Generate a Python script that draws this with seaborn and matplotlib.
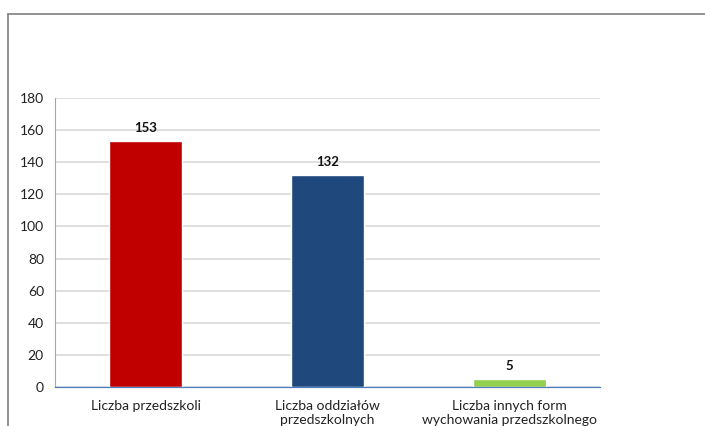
import matplotlib
matplotlib.use("Agg")
import matplotlib.pyplot as plt
import seaborn as sns
import pandas as pd
from matplotlib.lines import Line2D

categories = ["Liczba przedszkoli", "Liczba oddziałów\nprzedszkolnych",
              "Liczba innych form\nwychowania przedszkolnego"]
values = [153, 132, 5]
colors = ["#C00000", "#1F497D", "#92D050"]
yticks = [0, 20, 40, 60, 80, 100, 120, 140, 160, 180]

sns.set_theme(style="white")
plt.rcParams['font.family'] = ['Lato', 'DejaVu Sans']

df = pd.DataFrame({"cat": categories, "val": values})

fig = plt.figure(figsize=(7.05, 4.26), dpi=100)
ax = fig.add_axes([55/705, 1-387/426, 545/705, (387-98)/426])

sns.barplot(data=df, x="cat", y="val", hue="cat", palette=colors,
            width=0.4, saturation=1, legend=False, ax=ax)

ax.set_ylim(0, 180)
ax.set_yticks(yticks)
ax.set_yticklabels([str(t) for t in yticks], fontsize=10, color="#222222")
ax.set_xlim(-0.5, 2.5)
ax.set_xticks([0, 1, 2])
ax.set_xticklabels(categories, fontsize=10, color="#222222", linespacing=1.2)
ax.tick_params(axis="x", length=0, pad=9)
ax.tick_params(axis="y", length=4, color="#BFBFBF", width=0.8, pad=4, direction="out")
ax.set_xticks([0.5, 1.5], minor=True)
ax.tick_params(axis="x", which="minor", length=4, color="#4F81BD", width=0.8, direction="out")
ax.set_xlabel("")
ax.set_ylabel("")

ax.yaxis.grid(True, color="#D9D9D9", linewidth=1.2)
ax.set_axisbelow(True)
for s in ["top", "right"]:
    ax.spines[s].set_visible(False)
ax.spines["left"].set_color("#A6A6A6")
ax.spines["left"].set_linewidth(0.8)
ax.spines["bottom"].set_color("#4F81BD")
ax.spines["bottom"].set_linewidth(0.9)

for cont in ax.containers:
    ax.bar_label(cont, fontsize=9.5, fontweight="bold", padding=5, color="#111111")

# outer frame
fig.add_artist(Line2D([8/705, 1], [1-14/426, 1-14/426], transform=fig.transFigure,
                      color="#808080", linewidth=1.2))
fig.add_artist(Line2D([8/705, 8/705], [0, 1-14/426], transform=fig.transFigure,
                      color="#808080", linewidth=1.2))

fig.savefig("out.png", dpi=100, facecolor="white")
